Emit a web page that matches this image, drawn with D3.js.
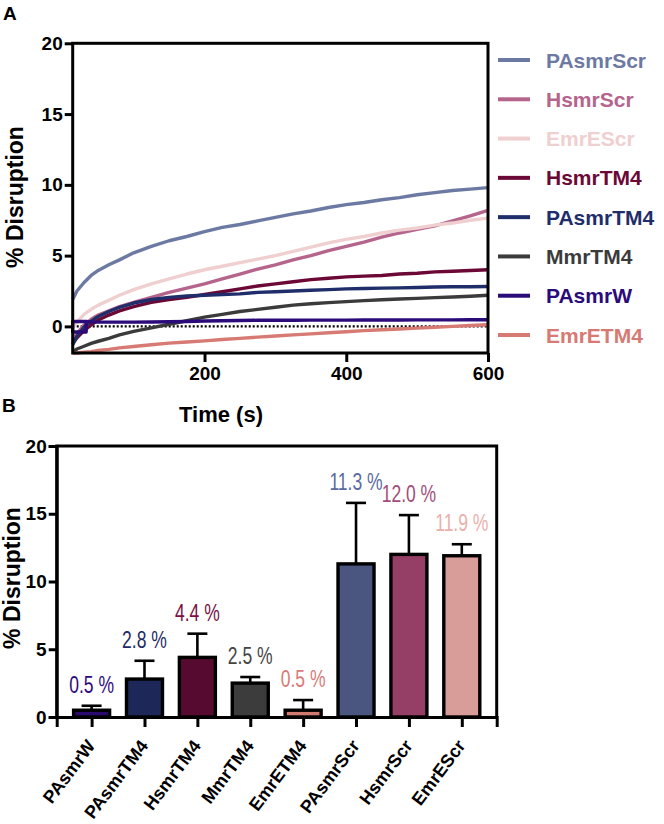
<!DOCTYPE html>
<html><head><meta charset="utf-8">
<script src="https://cdn.jsdelivr.net/npm/d3@7/dist/d3.min.js"></script>
<style>body{margin:0;background:#fff}svg{display:block}text{font-family:"Liberation Sans",Arial,Helvetica,sans-serif}</style>
</head><body>
<script>
// ---------- Panel A data ----------
const timeA = [14,20,30,40,50,65,80,100,125,150,175,200,225,250,275,300,325,350,375,400,425,450,475,500,525,550,575,600];
const seriesNames = ["PAsmrScr","HsmrScr","EmrEScr","HsmrTM4","PAsmrTM4","MmrTM4","PAsmrW","EmrETM4"];
const PAsmrScr = [1.9,2.5,3.1,3.6,3.95,4.35,4.7,5.2,5.65,6.05,6.35,6.7,7.0,7.2,7.45,7.7,7.95,8.15,8.4,8.6,8.75,8.95,9.1,9.3,9.45,9.6,9.7,9.8];
const HsmrScr  = [-1.0,-0.5,0.1,0.5,0.8,1.1,1.4,1.7,2.05,2.4,2.7,3.0,3.35,3.7,4.05,4.35,4.7,5.0,5.35,5.65,5.95,6.3,6.6,6.85,7.1,7.45,7.8,8.2];
const EmrEScr  = [-0.1,0.3,0.85,1.2,1.5,1.85,2.2,2.6,3.0,3.35,3.7,4.0,4.25,4.5,4.75,5.0,5.3,5.6,5.9,6.15,6.35,6.6,6.8,6.95,7.15,7.3,7.5,7.65];
const HsmrTM4  = [-1.2,-0.8,-0.3,0.1,0.45,0.8,1.1,1.4,1.7,1.9,2.05,2.25,2.45,2.65,2.85,3.0,3.15,3.3,3.4,3.5,3.55,3.6,3.7,3.75,3.85,3.9,3.95,4.0];
const PAsmrTM4 = [-1.3,-0.7,-0.05,0.35,0.7,1.05,1.35,1.65,1.9,2.05,2.15,2.2,2.25,2.3,2.4,2.45,2.5,2.55,2.6,2.65,2.68,2.7,2.72,2.75,2.78,2.8,2.8,2.82];
const MmrTM4   = [-1.8,-1.6,-1.4,-1.2,-1.05,-0.85,-0.6,-0.35,-0.1,0.15,0.4,0.65,0.85,1.05,1.2,1.35,1.5,1.6,1.68,1.75,1.82,1.88,1.93,1.98,2.03,2.08,2.13,2.2];
const PAsmrW   = [0.35,0.35,0.35,0.32,0.3,0.3,0.3,0.3,0.31,0.33,0.35,0.38,0.4,0.42,0.43,0.43,0.43,0.44,0.44,0.44,0.45,0.45,0.45,0.46,0.46,0.46,0.47,0.47];
const EmrETM4  = [-1.9,-1.88,-1.83,-1.78,-1.7,-1.62,-1.52,-1.42,-1.3,-1.18,-1.1,-1.02,-0.93,-0.85,-0.76,-0.68,-0.6,-0.53,-0.45,-0.38,-0.3,-0.24,-0.18,-0.12,-0.06,0.0,0.06,0.12];
// early box-shaped trace segment of PAsmrW
const PAsmrWStartT = [33,14,14,33,33];
const PAsmrWStartV = [0.35,0.35,-0.4,-0.4,0.35];
const seriesColors = ["#6c7aa3","#b5648c","#efcfcf","#6b0836","#1f2d6b","#3b3b3b","#2b0a7a","#d67a73"];
const ticksA_y = [0,5,10,15,20];
const ticksA_x = [200,400,600];

// ---------- Panel B data ----------
const barCats = ["PAsmrW","PAsmrTM4","HsmrTM4","MmrTM4","EmrETM4","PAsmrScr","HsmrScr","EmrEScr"];
const barMeans = [0.5,2.8,4.4,2.5,0.5,11.3,12.0,11.9];
const barSD = [0.33,1.35,1.75,0.45,0.75,4.5,2.9,0.85];
const barLabels = ["0.5 %","2.8 %","4.4 %","2.5 %","0.5 %","11.3 %","12.0 %","11.9 %"];
const barFill = ["#2a0a6e","#1e2858","#560a30","#3c3c3c","#d07a70","#4a5580","#953f67","#d89d99"];
const labelColors = ["#2e0a80","#1f2a66","#7a0f45","#444444","#d97a78","#5a6a9e","#a34c7a","#eab0ab"];
const ticksB_y = [0,5,10,15,20];

const svg = d3.select("body").append("svg").attr("width",664).attr("height",824);

// ===== Panel A =====
const xA = d3.scaleLinear().domain([14,600]).range([72.7,488]);
const yA = d3.scaleLinear().domain([-1.88,20]).range([353,43.3]);
const gA = svg.append("g");

const dataA = {PAsmrScr,HsmrScr,EmrEScr,HsmrTM4,PAsmrTM4,MmrTM4,PAsmrW,EmrETM4};
const line = d3.line().x(d=>xA(d[0])).y(d=>yA(d[1]));
gA.append("path").attr("d", line([[14,0],[600,0]])).attr("stroke","#000").attr("stroke-width",2.2)
  .attr("stroke-dasharray","2,2").attr("fill","none");
seriesNames.forEach((n,i)=>{
  let pts = timeA.map((t,j)=>[t,dataA[n][j]]);
  if(n==="PAsmrW"){
    const pre = PAsmrWStartT.map((t,j)=>[t,PAsmrWStartV[j]]);
    pts = pre.concat(pts.filter(p=>p[0]>33));
  }
  gA.append("path").attr("d",line(pts)).attr("fill","none").attr("stroke",seriesColors[i])
    .attr("stroke-width",3.4).attr("stroke-linejoin","round");
});
gA.append("rect").attr("x",72.7).attr("y",43.3).attr("width",488-72.7).attr("height",353-43.3)
  .attr("fill","none").attr("stroke","#000").attr("stroke-width",3);
const axA_y = gA.append("g").attr("transform","translate(72.7,0)")
  .call(d3.axisLeft(yA).tickValues(ticksA_y).tickSize(8).tickPadding(2));
const axA_x = gA.append("g").attr("transform","translate(0,353)")
  .call(d3.axisBottom(xA).tickValues(ticksA_x).tickSize(9).tickPadding(5));
[axA_y,axA_x].forEach(a=>{
  a.select(".domain").remove();
  a.selectAll(".tick line").attr("stroke","#000").attr("stroke-width",3);
  a.selectAll(".tick text").attr("fill","#000").style("font-size","19px").style("font-weight","bold")
   .style("font-family","'Liberation Sans',Arial,sans-serif");
});
gA.append("text").attr("x",221).attr("y",422).attr("text-anchor","middle")
  .style("font-size","22px").style("font-weight","bold").text("Time (s)");
gA.append("text").attr("transform","translate(23,197) rotate(-90)").attr("text-anchor","middle")
  .style("font-size","23px").style("font-weight","bold").text("% Disruption");
svg.append("text").attr("x",3).attr("y",20).style("font-size","19px").style("font-weight","bold").text("A");

// legend
const legY = d3.scalePoint().domain(seriesNames).range([60,335]);
seriesNames.forEach((n,i)=>{
  const y = legY(n);
  svg.append("line").attr("x1",498).attr("x2",530).attr("y1",y).attr("y2",y)
    .attr("stroke",seriesColors[i]).attr("stroke-width",4);
  svg.append("text").attr("x",546).attr("y",y).attr("dy","0.36em").attr("fill",seriesColors[i])
    .style("font-size","21px").style("font-weight","bold").text(n);
});

// ===== Panel B =====
const yB = d3.scaleLinear().domain([0,20]).range([717,446]);
const xB = d3.scalePoint().domain(barCats).range([56.7,496.7]).padding(0.66);
const bw = 36;
const gB = svg.append("g");
barCats.forEach((c,i)=>{
  const cx = xB(c);
  gB.append("line").attr("x1",cx).attr("x2",cx).attr("y1",yB(barMeans[i])).attr("y2",yB(barMeans[i]+barSD[i]))
    .attr("stroke","#000").attr("stroke-width",2.6);
  gB.append("line").attr("x1",cx-10).attr("x2",cx+10).attr("y1",yB(barMeans[i]+barSD[i])).attr("y2",yB(barMeans[i]+barSD[i]))
    .attr("stroke","#000").attr("stroke-width",2.6);
  gB.append("rect").attr("x",cx-bw/2).attr("width",bw).attr("y",yB(barMeans[i])).attr("height",yB(0)-yB(barMeans[i]))
    .attr("fill",barFill[i]).attr("stroke","#000").attr("stroke-width",3.4);
  gB.append("text").attr("transform",`translate(${cx},${yB(barMeans[i]+barSD[i])-13}) scale(0.73,1)`)
    .attr("text-anchor","middle").attr("fill",labelColors[i]).style("font-size","24px")
    .text(barLabels[i]);
});
gB.append("path").attr("d",`M56.7,717V446H496.7V717`).attr("fill","none").attr("stroke","#000").attr("stroke-width",3);
const axB_y = gB.append("g").attr("transform","translate(56.7,0)")
  .call(d3.axisLeft(yB).tickValues(ticksB_y).tickSize(8).tickPadding(2));
const axB_x = gB.append("g").attr("transform","translate(0,717)")
  .call(d3.axisBottom(xB).tickSize(10).tickPadding(0));
[axB_y,axB_x].forEach(a=>{
  a.select(".domain").attr("stroke","#000").attr("stroke-width",3);
  a.selectAll(".tick line").attr("stroke","#000").attr("stroke-width",3);
  a.selectAll(".tick text").attr("fill","#000").style("font-size","19px").style("font-weight","bold")
   .style("font-family","'Liberation Sans',Arial,sans-serif");
});
axB_x.selectAll(".tick text").attr("text-anchor","end").attr("y",0).attr("dy",0)
  .attr("transform","translate(4,29) rotate(-53)").style("font-size","18px");
gB.append("text").attr("transform","translate(20,578) rotate(-90)").attr("text-anchor","middle")
  .style("font-size","23px").style("font-weight","bold").text("% Disruption");
svg.append("text").attr("x",2).attr("y",412).style("font-size","19px").style("font-weight","bold").text("B");
</script>
</body></html>
